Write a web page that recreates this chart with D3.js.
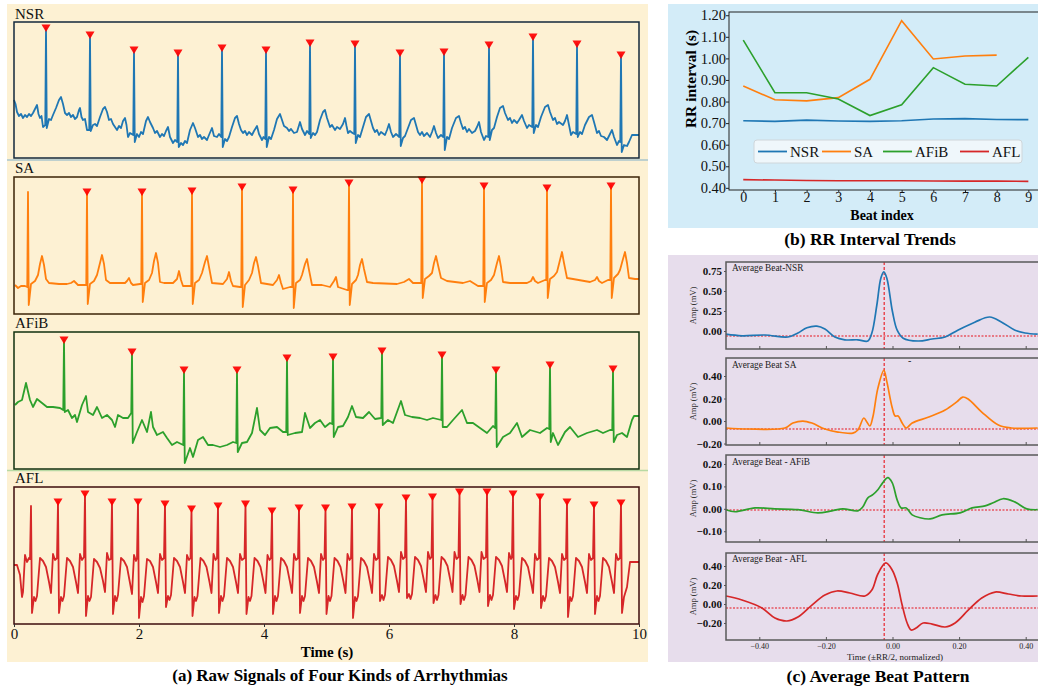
<!DOCTYPE html>
<html>
<head>
<meta charset="utf-8">
<script src="https://cdn.jsdelivr.net/npm/d3@7"></script>
<style>
  body { margin: 0; background: #ffffff; }
  svg { display: block; font-family: "Liberation Serif", "Times New Roman", serif; }
</style>
</head>
<body>
<svg id="fig" width="1038" height="686"></svg>
<script>
// ---- (a) raw signals: [time s, amplitude mV] ----
var nsrSignal = [
  [0,0.44],[0.024,0.36],[0.048,0.20],[0.08,0.12],[0.112,0.16],[0.144,0.08],[0.176,0.14],[0.208,0.10],[0.24,0.16],[0.272,0.12],[0.304,0.18],
  [0.336,0.26],[0.368,0.34],[0.392,0.16],[0.416,0.08],[0.44,0.12],[0.464,-0.10],[0.5,-0.06],[0.512,1.88],[0.524,-0.12],
  [0.56,0.06],[0.592,0.04],[0.624,0.14],[0.672,0.28],[0.72,0.44],[0.752,0.50],[0.784,0.36],[0.816,0.18],[0.848,0.14],[0.88,0.18],[0.912,0.10],
  [0.944,0.14],[0.976,0.06],[1.008,0.10],[1.04,0.24],[1.056,0.28],[1.08,0.10],[1.104,0.04],[1.136,0.06],[1.168,-0.16],[1.204,-0.16],[1.216,1.74],[1.228,-0.18],
  [1.264,-0.06],[1.296,-0.04],[1.328,-0.08],[1.376,0.10],[1.424,0.26],[1.456,0.30],[1.488,0.20],[1.52,0.04],[1.552,0.06],[1.584,-0.04],[1.616,-0.10],
  [1.648,-0.16],[1.68,-0.08],[1.712,-0.12],[1.744,0.02],[1.776,0.08],[1.8,-0.06],[1.824,-0.30],[1.856,-0.22],[1.908,-0.26],[1.92,1.44],[1.932,-0.40],
  [1.968,-0.24],[2.0,-0.30],[2.032,-0.20],[2.064,-0.24],[2.112,0.02],[2.144,0.10],[2.176,0.00],[2.224,-0.12],[2.256,-0.22],[2.288,-0.18],[2.336,-0.30],
  [2.368,-0.24],[2.4,-0.28],[2.432,-0.18],[2.464,-0.10],[2.496,-0.30],[2.544,-0.42],[2.576,-0.36],[2.612,-0.40],[2.624,1.38],[2.636,-0.50],
  [2.672,-0.42],[2.704,-0.46],[2.736,-0.38],[2.768,-0.42],[2.816,-0.16],[2.864,-0.02],[2.896,-0.12],[2.944,-0.30],[2.976,-0.26],[3.008,-0.34],
  [3.04,-0.30],[3.088,-0.36],[3.12,-0.26],[3.168,-0.12],[3.2,-0.28],[3.248,-0.30],[3.28,-0.24],[3.316,-0.30],[3.328,1.48],[3.34,-0.50],
  [3.376,-0.34],[3.408,-0.38],[3.44,-0.30],[3.488,-0.10],[3.536,0.08],[3.568,0.12],[3.6,-0.04],[3.632,-0.16],[3.664,-0.22],[3.696,-0.18],[3.728,-0.26],
  [3.76,-0.20],[3.808,-0.26],[3.84,-0.18],[3.888,-0.08],[3.92,-0.24],[3.968,-0.36],[3.992,-0.30],[4.02,-0.34],[4.032,1.44],[4.044,-0.50],
  [4.08,-0.30],[4.112,-0.34],[4.16,-0.16],[4.208,0.06],[4.256,0.16],[4.288,0.04],[4.32,-0.08],[4.368,-0.12],[4.4,-0.18],[4.432,-0.14],[4.48,-0.22],
  [4.528,-0.20],[4.576,0],[4.608,-0.14],[4.656,-0.26],[4.688,-0.18],[4.724,-0.24],[4.736,1.58],[4.748,-0.32],
  [4.784,-0.22],[4.816,-0.26],[4.848,-0.20],[4.896,0.04],[4.944,0.20],[4.976,0.24],[5.008,0.08],[5.056,-0.10],[5.088,-0.06],[5.136,-0.16],[5.168,-0.10],
  [5.216,-0.14],[5.264,-0.04],[5.296,0.08],[5.32,-0.08],[5.344,-0.22],[5.376,-0.18],[5.416,-0.22],[5.444,-0.24],[5.456,1.56],[5.468,-0.42],
  [5.504,-0.26],[5.536,-0.30],[5.584,-0.10],[5.632,0.10],[5.68,0.16],[5.712,0.02],[5.744,-0.12],[5.776,-0.20],[5.808,-0.16],[5.84,-0.26],[5.872,-0.20],
  [5.936,-0.26],[5.968,-0.16],[6.0,-0.04],[6.032,-0.20],[6.064,-0.30],[6.112,-0.24],[6.164,-0.30],[6.176,1.38],[6.188,-0.48],
  [6.224,-0.32],[6.256,-0.28],[6.304,-0.12],[6.352,0.04],[6.4,0.08],[6.432,-0.06],[6.464,-0.20],[6.496,-0.26],[6.528,-0.20],[6.56,-0.28],[6.608,-0.22],
  [6.656,-0.30],[6.688,-0.20],[6.72,-0.08],[6.752,-0.22],[6.784,-0.32],[6.832,-0.26],[6.868,-0.30],[6.88,1.40],[6.892,-0.56],
  [6.928,-0.30],[6.96,-0.34],[7.008,-0.12],[7.072,0.08],[7.12,0.12],[7.152,-0.02],[7.184,-0.14],[7.216,-0.10],[7.248,-0.20],[7.28,-0.14],[7.328,-0.22],
  [7.376,-0.18],[7.408,-0.10],[7.44,0],[7.472,-0.20],[7.52,-0.36],[7.552,-0.28],[7.588,-0.30],[7.6,1.54],[7.612,-0.36],
  [7.648,-0.16],[7.68,-0.12],[7.728,0.10],[7.776,0.28],[7.824,0.32],[7.856,0.18],[7.904,0.04],[7.936,0.08],[7.968,-0.02],[8.0,0.04],[8.048,-0.02],
  [8.08,0.04],[8.128,0.14],[8.16,0.02],[8.208,-0.12],[8.24,-0.06],[8.292,-0.10],[8.304,1.70],[8.316,-0.22],
  [8.352,-0.06],[8.384,-0.10],[8.432,0.10],[8.496,0.30],[8.544,0.34],[8.576,0.20],[8.624,0.04],[8.656,0.08],[8.688,-0.04],[8.72,0.00],[8.784,-0.06],
  [8.816,0.02],[8.848,0.14],[8.88,-0.06],[8.912,-0.26],[8.944,-0.20],[8.996,-0.24],[9.008,1.56],[9.02,-0.30],
  [9.056,-0.20],[9.088,-0.24],[9.136,-0.06],[9.2,0.10],[9.248,0.14],[9.28,0.00],[9.328,-0.22],[9.36,-0.18],[9.392,-0.28],[9.44,-0.30],[9.488,-0.36],
  [9.52,-0.28],[9.568,-0.16],[9.6,-0.30],[9.648,-0.46],[9.68,-0.38],[9.70,-0.40],[9.712,1.34],[9.724,-0.60],
  [9.76,-0.46],[9.808,-0.48],[9.84,-0.40],[9.888,-0.26],[9.92,-0.26],[10,-0.26]
];
var nsrPeakTimes = [0.512, 1.216, 1.92, 2.624, 3.328, 4.032, 4.736, 5.456, 6.176, 6.88, 7.6, 8.304, 9.008, 9.712];

var saSignal = [
  [0.016,0],[0.064,-0.06],[0.112,-0.02],[0.176,-0.02],[0.212,-0.04],[0.224,1.86],[0.236,-0.40],[0.272,0.02],[0.336,0.08],[0.384,0.20],[0.416,0.42],
  [0.448,0.58],[0.48,0.40],[0.512,0.12],[0.56,0.04],[0.72,0.02],[0.848,0.02],[0.912,0.04],[0.96,0.08],[0.992,0.04],[1.024,0],[1.136,0],[1.156,0],
  [1.168,1.86],[1.18,-0.38],[1.216,0.02],[1.28,0.08],[1.328,0.20],[1.376,0.44],[1.408,0.60],[1.44,0.42],[1.472,0.10],[1.536,0.04],[1.776,0.04],
  [1.808,0.08],[1.84,0.14],[1.872,0.04],[1.904,0],[2.016,0.02],[2.036,0.02],
  [2.048,1.86],[2.06,-0.34],[2.096,0.04],[2.16,0.10],[2.208,0.24],[2.24,0.48],[2.272,0.64],[2.304,0.44],[2.336,0.06],[2.4,0.04],[2.544,0.04],
  [2.608,0.12],[2.64,0.28],[2.672,0.10],[2.704,-0.02],[2.816,-0.02],[2.836,-0.02],
  [2.848,1.88],[2.86,-0.38],[2.896,0.04],[2.96,0.10],[3.008,0.24],[3.056,0.46],[3.088,0.58],[3.12,0.36],[3.168,0.04],[3.344,0.02],[3.408,0.12],
  [3.44,0.26],[3.472,0.08],[3.504,-0.02],[3.616,-0.04],[3.636,-0.04],
  [3.648,1.96],[3.66,-0.44],[3.696,0],[3.76,0.10],[3.808,0.24],[3.84,0.44],[3.872,0.56],[3.904,0.38],[3.952,0.04],[4.144,0],[4.208,0.10],
  [4.24,0.20],[4.272,0.04],[4.304,-0.08],[4.416,-0.04],[4.452,-0.04],
  [4.464,1.90],[4.476,-0.46],[4.512,0.04],[4.576,0.10],[4.608,0.20],[4.656,0.42],[4.688,0.52],[4.72,0.30],[4.768,0],[4.928,0],[5.056,-0.04],
  [5.12,0.08],[5.152,0.16],[5.184,-0.04],[5.328,-0.10],[5.348,-0.10],
  [5.36,2.04],[5.372,-0.40],[5.408,0.02],[5.472,0.10],[5.504,0.20],[5.536,0.40],[5.568,0.52],[5.6,0.32],[5.648,0.06],[5.744,0.04],[6.128,0.02],
  [6.24,0.06],[6.32,0.12],[6.384,0.04],[6.516,0.04],
  [6.528,2.10],[6.54,-0.26],[6.576,0.12],[6.64,0.18],[6.688,0.24],[6.72,0.44],[6.752,0.58],[6.784,0.40],[6.832,0.14],[6.928,0.08],[7.184,0.04],
  [7.296,0.08],[7.424,-0.02],[7.508,-0.02],
  [7.52,1.98],[7.532,-0.34],[7.568,0.04],[7.632,0.10],[7.68,0.20],[7.728,0.44],[7.76,0.58],[7.792,0.36],[7.824,0.06],[7.936,0.04],[8.208,0.04],
  [8.272,0.08],[8.304,0.16],[8.336,0.08],[8.384,0.04],[8.496,0.10],[8.516,0.10],
  [8.528,1.94],[8.54,-0.26],[8.576,0.12],[8.64,0.18],[8.688,0.26],[8.736,0.50],[8.768,0.66],[8.8,0.44],[8.848,0.14],[8.944,0.12],[9.216,0.06],
  [9.296,0.10],[9.328,0.16],[9.36,0.08],[9.408,0.04],[9.504,0.10],[9.54,0.10],
  [9.552,1.98],[9.564,-0.26],[9.6,0.14],[9.664,0.22],[9.696,0.30],[9.744,0.52],[9.776,0.66],[9.808,0.44],[9.84,0.14],[9.936,0.12],[10,0.12]
];
var saPeakTimes = [1.168, 2.048, 2.848, 3.648, 4.464, 5.36, 6.528, 7.52, 8.528, 9.552];

var afibSignal = [
  [0.016,0.30],[0.064,0.36],[0.128,0.40],[0.192,0.74],[0.256,0.40],[0.304,0.26],[0.368,0.42],[0.448,0.34],[0.528,0.26],[0.624,0.26],[0.736,0.24],
  [0.788,0.20],[0.80,1.60],[0.812,0.16],[0.864,0.20],[0.928,0.04],[0.976,0.10],[1.008,-0.04],[1.088,0.30],[1.152,0.48],[1.184,0.16],[1.264,0.10],
  [1.328,0.26],[1.408,0.04],[1.488,0.10],[1.568,0],[1.616,-0.14],[1.664,0.10],[1.744,0.04],[1.824,0.04],[1.876,0.14],[1.888,1.36],[1.9,-0.46],
  [1.968,-0.24],[2.048,0],[2.128,-0.24],[2.192,0.16],[2.224,-0.14],[2.288,-0.30],[2.384,-0.24],[2.448,-0.36],[2.528,-0.50],[2.608,-0.44],[2.708,-0.50],
  [2.72,1.00],[2.732,-0.86],[2.816,-0.56],[2.864,-0.74],[2.944,-0.40],[3.024,-0.34],[3.104,-0.50],[3.184,-0.50],[3.296,-0.54],[3.408,-0.50],[3.504,-0.44],
  [3.556,-0.46],[3.568,1.00],[3.58,-0.64],[3.648,-0.46],[3.728,-0.44],[3.808,-0.26],[3.888,0.24],[3.936,-0.20],[4.016,-0.30],[4.096,-0.16],[4.208,-0.14],
  [4.304,-0.24],[4.356,-0.24],[4.368,1.24],[4.38,-0.30],[4.496,-0.26],[4.608,-0.24],[4.656,0.14],[4.736,-0.16],[4.816,-0.06],[4.896,0],[4.976,-0.14],
  [5.056,-0.06],[5.092,-0.08],[5.104,1.26],[5.116,-0.34],[5.184,-0.14],[5.264,-0.12],[5.344,0.06],[5.408,0.28],[5.472,0.06],[5.584,0.04],[5.68,0.16],
  [5.776,0.02],[5.876,0.04],[5.888,1.38],[5.9,-0.10],[5.984,0],[6.064,-0.06],[6.192,0.38],[6.256,0.10],[6.368,0.06],[6.496,0.04],[6.608,0],[6.704,0.04],
  [6.836,0],[6.848,1.30],[6.86,-0.14],[6.928,-0.14],[7.024,0],[7.168,0.20],[7.248,-0.06],[7.344,-0.06],[7.456,-0.16],[7.568,-0.26],[7.664,-0.12],
  [7.7,-0.16],[7.712,1.00],[7.724,-0.54],[7.824,-0.34],[7.936,-0.26],[8.048,-0.06],[8.128,-0.34],[8.256,-0.20],[8.416,-0.26],[8.528,-0.16],
  [8.564,-0.18],[8.576,1.10],[8.588,-0.44],[8.624,-0.26],[8.704,-0.50],[8.816,-0.24],[8.896,-0.14],[9.024,-0.34],[9.168,-0.26],[9.328,-0.20],
  [9.424,-0.26],[9.536,-0.20],[9.572,-0.20],[9.584,1.02],[9.596,-0.44],[9.648,-0.30],[9.728,-0.26],[9.808,-0.34],[9.888,0],[9.92,0.08],[10,0.08]
];
var afibPeakTimes = [0.80, 1.888, 2.72, 3.568, 4.368, 5.104, 5.888, 6.848, 7.712, 8.576, 9.584];

var aflSignal = [
  [0,0],[0.048,0],[0.096,-0.20],[0.128,-0.64],[0.144,-0.54],[0.176,0.20],[0.208,0.06],[0.24,0.14],[0.256,0.12],
  [0.272,1.18],[0.288,-0.96],[0.32,-0.64],[0.344,-0.72],[0.368,-0.62],[0.416,0.14],[0.464,0.08],[0.512,-0.04],[0.56,-0.34],[0.592,-0.56],[0.624,0.22],[0.656,0.10],[0.688,0.14],
  [0.704,1.26],[0.72,-0.96],[0.752,-0.64],[0.776,-0.72],[0.80,-0.62],[0.848,0.14],[0.896,0.08],[0.944,-0.04],[0.992,-0.34],[1.024,-0.56],[1.056,0.22],[1.088,0.10],[1.12,0.16],
  [1.136,1.42],[1.152,-1.02],[1.184,-0.62],[1.208,-0.72],[1.232,-0.64],[1.28,0.12],[1.328,0.06],[1.376,-0.06],[1.424,-0.32],[1.456,-0.54],[1.488,0.24],[1.52,0.10],[1.552,0.12],
  [1.568,1.26],[1.584,-0.98],[1.616,-0.62],[1.64,-0.72],[1.664,-0.60],[1.712,0.14],[1.76,0.08],[1.808,-0.04],[1.856,-0.36],[1.888,-0.58],[1.92,0.20],[1.952,0.08],[1.968,0.14],
  [1.984,1.26],[2.0,-1.06],[2.032,-0.64],[2.056,-0.74],[2.08,-0.62],[2.128,0.12],[2.176,0.08],[2.224,-0.04],[2.272,-0.34],[2.304,-0.56],[2.336,0.22],[2.368,0.10],[2.40,0.14],
  [2.416,1.22],[2.432,-0.84],[2.464,-0.62],[2.488,-0.70],[2.512,-0.60],[2.56,0.14],[2.608,0.08],[2.656,-0.04],[2.704,-0.34],[2.736,-0.56],[2.768,0.20],[2.80,0.10],[2.824,0.14],
  [2.84,1.12],[2.856,-1.02],[2.888,-0.64],[2.912,-0.72],[2.936,-0.62],[2.984,0.14],[3.032,0.08],[3.08,-0.04],[3.128,-0.34],[3.16,-0.56],[3.192,0.22],[3.224,0.10],[3.248,0.14],
  [3.264,1.18],[3.28,-0.96],[3.312,-0.62],[3.336,-0.72],[3.36,-0.62],[3.408,0.14],[3.456,0.08],[3.504,-0.04],[3.552,-0.34],[3.584,-0.56],[3.616,0.22],[3.648,0.10],[3.688,0.14],
  [3.704,1.22],[3.72,-0.98],[3.752,-0.64],[3.776,-0.72],[3.80,-0.62],[3.848,0.14],[3.896,0.08],[3.944,-0.04],[3.992,-0.34],[4.024,-0.56],[4.056,0.20],[4.088,0.10],[4.112,0.14],
  [4.128,1.08],[4.144,-0.98],[4.176,-0.62],[4.20,-0.72],[4.224,-0.62],[4.272,0.14],[4.32,0.08],[4.368,-0.04],[4.416,-0.34],[4.448,-0.56],[4.48,0.22],[4.512,0.10],[4.544,0.14],
  [4.56,1.14],[4.576,-0.96],[4.608,-0.62],[4.632,-0.72],[4.656,-0.62],[4.704,0.14],[4.752,0.08],[4.80,-0.04],[4.848,-0.34],[4.88,-0.56],[4.912,0.22],[4.944,0.10],[4.968,0.14],
  [4.984,1.14],[5.0,-0.98],[5.032,-0.62],[5.056,-0.72],[5.08,-0.62],[5.128,0.14],[5.176,0.08],[5.224,-0.04],[5.272,-0.34],[5.304,-0.56],[5.336,0.22],[5.368,0.10],[5.392,0.14],
  [5.408,1.16],[5.424,-1.06],[5.456,-0.64],[5.48,-0.72],[5.504,-0.62],[5.552,0.14],[5.60,0.08],[5.648,-0.04],[5.696,-0.34],[5.728,-0.56],[5.76,0.22],[5.792,0.10],[5.824,0.14],
  [5.84,1.16],[5.856,-0.72],[5.888,-0.60],[5.912,-0.70],[5.936,-0.60],[5.984,0.16],[6.032,0.10],[6.08,-0.02],[6.128,-0.32],[6.16,-0.54],[6.192,0.26],[6.224,0.12],[6.256,0.16],
  [6.272,1.34],[6.288,-0.66],[6.32,-0.58],[6.344,-0.68],[6.368,-0.58],[6.416,0.16],[6.464,0.10],[6.512,-0.02],[6.56,-0.32],[6.592,-0.54],[6.624,0.26],[6.656,0.12],[6.68,0.16],
  [6.696,1.36],[6.712,-0.76],[6.744,-0.60],[6.768,-0.70],[6.792,-0.60],[6.84,0.16],[6.888,0.10],[6.936,-0.02],[6.984,-0.32],[7.016,-0.54],[7.048,0.26],[7.08,0.12],[7.112,0.16],
  [7.128,1.46],[7.144,-0.78],[7.176,-0.60],[7.20,-0.70],[7.224,-0.60],[7.272,0.16],[7.32,0.10],[7.368,-0.02],[7.416,-0.32],[7.448,-0.54],[7.48,0.26],[7.512,0.12],[7.552,0.16],
  [7.568,1.46],[7.584,-0.82],[7.616,-0.60],[7.64,-0.70],[7.664,-0.60],[7.712,0.16],[7.76,0.10],[7.808,-0.02],[7.856,-0.32],[7.888,-0.54],[7.92,0.24],[7.952,0.12],[7.968,0.16],
  [7.984,1.42],[8.0,-0.88],[8.032,-0.62],[8.056,-0.70],[8.08,-0.60],[8.128,0.14],[8.176,0.08],[8.224,-0.04],[8.272,-0.34],[8.304,-0.56],[8.336,0.22],[8.368,0.10],[8.40,0.14],
  [8.416,1.36],[8.432,-0.86],[8.464,-0.62],[8.488,-0.72],[8.512,-0.62],[8.56,0.14],[8.608,0.08],[8.656,-0.04],[8.704,-0.34],[8.736,-0.56],[8.768,0.22],[8.80,0.10],[8.832,0.14],
  [8.848,1.26],[8.864,-1.04],[8.896,-0.64],[8.92,-0.72],[8.944,-0.62],[8.992,0.14],[9.04,0.08],[9.088,-0.04],[9.136,-0.34],[9.168,-0.56],[9.20,0.22],[9.232,0.10],[9.264,0.14],
  [9.28,1.20],[9.296,-0.98],[9.328,-0.62],[9.352,-0.72],[9.376,-0.62],[9.424,0.14],[9.472,0.08],[9.52,-0.04],[9.568,-0.34],[9.60,-0.56],[9.632,0.22],[9.664,0.10],[9.696,0.14],
  [9.712,1.24],[9.728,-0.96],[9.76,-0.64],[9.808,-0.44],[9.856,0.06],[9.90,0.06],[10,0.06]
];
var aflPeakTimes = [0.704, 1.136, 1.568, 1.984, 2.416, 2.84, 3.264, 3.704, 4.128, 4.56, 4.984, 5.408,
  5.84, 6.272, 6.696, 7.128, 7.568, 7.984, 8.416, 8.848, 9.28, 9.712];

var timeTicks = [0, 2, 4, 6, 8, 10];

// ---- (b) RR interval trends ----
var beatIndex = [0, 1, 2, 3, 4, 5, 6, 7, 8, 9];
var rrNSR = [0.711, 0.708, 0.714, 0.710, 0.708, 0.711, 0.719, 0.721, 0.717, 0.716];
var rrSA = [0.872, 0.808, 0.803, 0.818, 0.903, 1.175, 0.997, 1.011, 1.015];
var rrAFiB = [1.085, 0.841, 0.841, 0.812, 0.735, 0.785, 0.957, 0.880, 0.872, 1.005];
var rrAFL = [0.438, 0.436, 0.434, 0.433, 0.433, 0.433, 0.432, 0.431, 0.431, 0.430];
var rrTicks = [0.40, 0.50, 0.60, 0.70, 0.80, 0.90, 1.00, 1.10, 1.20];

// ---- (c) average beats: [time (RR/2 normalized), amplitude mV] ----
var avgNSR = [
  [-0.5,-0.04],[-0.452,-0.06],[-0.383,-0.05],[-0.314,-0.075],[-0.284,-0.025],[-0.257,0.04],[-0.227,0.06],[-0.203,0.025],
  [-0.173,-0.075],[-0.143,-0.11],[-0.104,-0.11],[-0.074,-0.125],[-0.062,-0.025],[-0.047,0.325],[-0.035,0.66],[-0.026,0.74],
  [-0.017,0.66],[0,0.24],[0.014,0.01],[0.032,-0.09],[0.077,-0.125],[0.119,-0.10],[0.158,-0.075],[0.196,0.01],[0.247,0.11],
  [0.292,0.175],[0.328,0.11],[0.368,0.01],[0.398,-0.025],[0.436,-0.04]
];
var avgSA = [
  [-0.5,-0.062],[-0.434,-0.071],[-0.323,-0.062],[-0.299,-0.018],[-0.269,0],[-0.242,-0.018],[-0.203,-0.071],[-0.164,-0.098],
  [-0.119,-0.107],[-0.104,-0.08],[-0.086,0.027],[-0.077,-0.009],[-0.068,-0.044],[-0.059,0.036],[-0.044,0.29],[-0.026,0.45],
  [-0.017,0.35],[-0.001,0.12],[0.008,0.045],[0.017,0.045],[0.029,-0.018],[0.041,-0.062],[0.059,-0.018],[0.109,0.036],
  [0.158,0.098],[0.193,0.17],[0.211,0.213],[0.227,0.196],[0.268,0.08],[0.318,-0.036],[0.357,-0.062],[0.436,-0.062]
];
var avgAFiB = [
  [-0.5,-0.004],[-0.473,-0.013],[-0.413,0.004],[-0.353,0],[-0.284,-0.004],[-0.224,-0.018],[-0.182,-0.009],[-0.149,0],
  [-0.104,-0.009],[-0.089,0.009],[-0.074,0.049],[-0.059,0.063],[-0.044,0.085],[-0.029,0.117],[-0.014,0.139],[-0.001,0.117],
  [0.014,0.04],[0.026,0.004],[0.041,0.004],[0.059,-0.027],[0.083,-0.04],[0.113,-0.045],[0.149,-0.027],[0.203,-0.018],
  [0.239,0.004],[0.278,0.013],[0.302,0.027],[0.332,0.045],[0.367,0.031],[0.403,0],[0.436,-0.004]
];
var avgAFL = [
  [-0.5,0.084],[-0.452,0.042],[-0.392,-0.042],[-0.353,-0.147],[-0.317,-0.179],[-0.284,-0.137],[-0.242,-0.011],[-0.203,0.095],
  [-0.167,0.137],[-0.128,0.116],[-0.083,0.084],[-0.062,0.147],[-0.044,0.316],[-0.020,0.432],[-0.001,0.358],[0.014,0.221],
  [0.029,-0.011],[0.044,-0.2],[0.056,-0.274],[0.071,-0.253],[0.092,-0.2],[0.119,-0.211],[0.158,-0.242],[0.188,-0.2],
  [0.228,-0.063],[0.268,0.063],[0.308,0.126],[0.348,0.105],[0.388,0.084],[0.436,0.084]
];
var beatTimeTicks = [-0.4, -0.2, 0, 0.2, 0.4];
var rPeakOffset = -0.025;

var svg = d3.select('#fig');

// panel backgrounds
svg.append('rect').attr('x', 7).attr('y', 4).attr('width', 641).attr('height', 658).attr('fill', '#fdf1d3');
svg.append('rect').attr('x', 668).attr('y', 4).attr('width', 370).attr('height', 224).attr('fill', '#d3ecf8');
svg.append('rect').attr('x', 668).attr('y', 255).attr('width', 370).attr('height', 407).attr('fill', '#e7ddec');

// ================= (a) raw signals =================
var tx = d3.scaleLinear().domain([0, 10]).range([14, 639]);

var signalPanels = [
  { label: 'NSR', data: nsrSignal, peaks: nsrPeakTimes, domain: [-0.72, 2.0], top: 22, bottom: 158, color: '#1f77b4', frame: '#13293d', labelY: 19 },
  { label: 'SA', data: saSignal, peaks: saPeakTimes, domain: [-0.58, 2.16], top: 177, bottom: 314, color: '#ff7f0e', frame: '#3b2307', labelY: 173 },
  { label: 'AFiB', data: afibSignal, peaks: afibPeakTimes, domain: [-0.98, 1.76], top: 332, bottom: 469, color: '#2ca02c', frame: '#10300f', labelY: 328 },
  { label: 'AFL', data: aflSignal, peaks: aflPeakTimes, domain: [-1.18, 1.56], top: 487, bottom: 624, color: '#d62728', frame: '#3d0c0c', labelY: 483 }
];

// thin separators between rows
svg.append('line').attr('x1', 7).attr('x2', 648).attr('y1', 160).attr('y2', 160).attr('stroke', '#a9c4cd').attr('stroke-width', 1.5);
svg.append('line').attr('x1', 7).attr('x2', 648).attr('y1', 470.5).attr('y2', 470.5).attr('stroke', '#b7d9a3').attr('stroke-width', 1.5);

signalPanels.forEach(function (p) {
  var y = d3.scaleLinear().domain(p.domain).range([p.bottom, p.top]);
  var g = svg.append('g');

  g.append('text')
    .attr('x', 15).attr('y', p.labelY)
    .attr('font-size', 15).attr('fill', '#111')
    .text(p.label);

  var line = d3.line()
    .x(function (d) { return tx(d[0]); })
    .y(function (d) { return y(d[1]); });

  g.append('path')
    .datum(p.data)
    .attr('d', line)
    .attr('fill', 'none')
    .attr('stroke', p.color)
    .attr('stroke-width', 1.8)
    .attr('stroke-linejoin', 'round');

  // R-peak markers: value taken from the nearest signal sample
  var peakPts = p.peaks.map(function (t) {
    return d3.least(p.data, function (d) { return Math.abs(d[0] - t); });
  });
  g.selectAll('path.peak')
    .data(peakPts)
    .join('path')
    .attr('class', 'peak')
    .attr('d', function (d) {
      var cx = tx(d[0]), cy = y(d[1]);
      return 'M' + (cx - 4.5) + ',' + (cy - 3.5) + 'L' + (cx + 4.5) + ',' + (cy - 3.5) + 'L' + cx + ',' + (cy + 4) + 'Z';
    })
    .attr('fill', '#ff0000')
    .attr('fill-opacity', 0.92);

  g.append('rect')
    .attr('x', tx(0)).attr('y', p.top)
    .attr('width', tx(10) - tx(0)).attr('height', p.bottom - p.top)
    .attr('fill', 'none')
    .attr('stroke', p.frame)
    .attr('stroke-width', 1.5);
});

var timeAxis = svg.append('g')
  .attr('transform', 'translate(0,624)')
  .call(d3.axisBottom(tx).tickValues(timeTicks).tickFormat(d3.format('d')).tickSize(3).tickPadding(1));
timeAxis.select('.domain').remove();
timeAxis.selectAll('text').attr('font-size', 15).attr('font-family', 'Liberation Serif').attr('fill', '#111');
timeAxis.selectAll('line').attr('stroke', '#333');

svg.append('text')
  .attr('x', 327).attr('y', 657)
  .attr('text-anchor', 'middle')
  .attr('font-size', 15).attr('font-weight', 'bold')
  .text('Time (s)');

svg.append('text')
  .attr('x', 340).attr('y', 681)
  .attr('text-anchor', 'middle')
  .attr('font-size', 17).attr('font-weight', 'bold')
  .text('(a) Raw Signals of Four Kinds of Arrhythmias');

// ================= (b) RR interval trends =================
var rx = d3.scaleLinear().domain([-0.45, 9.45]).range([729, 1042.6]);
var ry = d3.scaleLinear().domain([0.39, 1.215]).range([190, 12]);

var rrSeries = [
  { name: 'NSR', values: rrNSR, color: '#1f77b4' },
  { name: 'SA', values: rrSA, color: '#ff7f0e' },
  { name: 'AFiB', values: rrAFiB, color: '#2ca02c' },
  { name: 'AFL', values: rrAFL, color: '#d62728' }
];

var rrLine = d3.line()
  .x(function (d, i) { return rx(beatIndex[i]); })
  .y(function (d) { return ry(d); });

svg.append('g').selectAll('path')
  .data(rrSeries)
  .join('path')
  .attr('d', function (s) { return rrLine(s.values); })
  .attr('fill', 'none')
  .attr('stroke', function (s) { return s.color; })
  .attr('stroke-width', 1.6);

svg.append('rect')
  .attr('x', 729).attr('y', 12)
  .attr('width', 313.6).attr('height', 178)
  .attr('fill', 'none').attr('stroke', '#222').attr('stroke-width', 1);

var ryAxis = svg.append('g')
  .attr('transform', 'translate(729,0)')
  .call(d3.axisLeft(ry).tickValues(rrTicks).tickFormat(d3.format('.2f')).tickSize(3).tickPadding(0));
var rxAxis = svg.append('g')
  .attr('transform', 'translate(0,190)')
  .call(d3.axisBottom(rx).tickValues(beatIndex).tickFormat(d3.format('d')).tickSize(2).tickPadding(0));
[ryAxis, rxAxis].forEach(function (a) {
  a.select('.domain').remove();
  a.selectAll('text').attr('font-size', 14.5).attr('font-family', 'Liberation Serif').attr('fill', '#111');
  a.selectAll('line').attr('stroke', '#222');
});
rxAxis.selectAll('text').attr('font-size', 14);

svg.append('text')
  .attr('x', 882).attr('y', 219.5)
  .attr('text-anchor', 'middle')
  .attr('font-size', 14).attr('font-weight', 'bold')
  .text('Beat index');

svg.append('text')
  .attr('transform', 'translate(696,79) rotate(-90)')
  .attr('text-anchor', 'middle')
  .attr('font-size', 15.5).attr('font-weight', 'bold')
  .text('RR interval (s)');

// legend
var legend = svg.append('g');
legend.append('rect')
  .attr('x', 754).attr('y', 140).attr('width', 268).attr('height', 23)
  .attr('rx', 3)
  .attr('fill', '#f3f9fc').attr('fill-opacity', 0.85)
  .attr('stroke', '#cfd6da');
var legendX = [758, 822, 883, 960];
rrSeries.forEach(function (s, i) {
  legend.append('line')
    .attr('x1', legendX[i]).attr('x2', legendX[i] + 29)
    .attr('y1', 151.5).attr('y2', 151.5)
    .attr('stroke', s.color).attr('stroke-width', 1.8);
  legend.append('text')
    .attr('x', legendX[i] + 32).attr('y', 157)
    .attr('font-size', 15).attr('fill', '#111')
    .text(s.name);
});

svg.append('text')
  .attr('x', 870).attr('y', 245)
  .attr('text-anchor', 'middle')
  .attr('font-size', 17.5).attr('font-weight', 'bold')
  .text('(b) RR Interval Trends');

// ================= (c) average beat pattern =================
var bx = d3.scaleLinear().domain([-0.5, 0.5]).range([726, 1059]);

var beatPanels = [
  { title: 'Average Beat-NSR', data: avgNSR, base: -0.0625, domain: [-0.225, 0.8625], ticks: [0, 0.25, 0.5, 0.75], top: 262, bottom: 349, color: '#1f77b4', titleY: 271 },
  { title: 'Average Beat   SA', data: avgSA, base: -0.071, domain: [-0.213, 0.56], ticks: [-0.2, 0, 0.2, 0.4], top: 358, bottom: 445, color: '#ff7f0e', titleY: 368 },
  { title: 'Average Beat - AFiB', data: avgAFiB, base: -0.005, domain: [-0.148, 0.24], ticks: [-0.1, 0, 0.1, 0.2], top: 455, bottom: 542, color: '#2ca02c', titleY: 465 },
  { title: 'Average Beat - AFL', data: avgAFL, base: -0.042, domain: [-0.379, 0.537], ticks: [-0.2, 0, 0.2, 0.4], top: 553, bottom: 640, color: '#d62728', titleY: 562 }
];

beatPanels.forEach(function (p, i) {
  var y = d3.scaleLinear().domain(p.domain).range([p.bottom, p.top]);
  var g = svg.append('g');

  g.append('line')
    .attr('x1', bx(-0.5)).attr('x2', bx(0.5))
    .attr('y1', y(p.base)).attr('y2', y(p.base))
    .attr('stroke', '#e8141c').attr('stroke-width', 1.1).attr('stroke-dasharray', '2,1.5');

  g.append('line')
    .attr('x1', bx(rPeakOffset)).attr('x2', bx(rPeakOffset))
    .attr('y1', p.top).attr('y2', p.bottom)
    .attr('stroke', '#e8141c').attr('stroke-width', 1.1).attr('stroke-dasharray', '3,2');

  g.append('path')
    .datum(p.data)
    .attr('d', d3.line().curve(d3.curveCatmullRom)
      .x(function (d) { return bx(d[0]); })
      .y(function (d) { return y(d[1]); }))
    .attr('fill', 'none')
    .attr('stroke', p.color)
    .attr('stroke-width', 1.7);

  g.append('rect')
    .attr('x', 726).attr('y', p.top)
    .attr('width', 333).attr('height', p.bottom - p.top)
    .attr('fill', 'none').attr('stroke', '#5a5a5a').attr('stroke-width', 1.5);

  var yAxis = g.append('g')
    .attr('transform', 'translate(726,0)')
    .call(d3.axisLeft(y).tickValues(p.ticks).tickFormat(d3.format('.2f')).tickSize(2).tickPadding(2));
  yAxis.select('.domain').remove();
  yAxis.selectAll('text').attr('font-size', 11).attr('font-weight', 'bold').attr('font-family', 'Liberation Serif').attr('fill', '#111');
  yAxis.selectAll('line').attr('stroke', '#555');

  var xAxis = g.append('g')
    .attr('transform', 'translate(0,' + p.bottom + ')')
    .call(d3.axisBottom(bx).tickValues(beatTimeTicks).tickFormat(d3.format('.2f')).tickSize(-3).tickPadding(3));
  xAxis.select('.domain').remove();
  xAxis.selectAll('line').attr('stroke', '#555');
  if (i < beatPanels.length - 1) {
    xAxis.selectAll('text').remove();
  } else {
    xAxis.selectAll('text').attr('font-size', 8).attr('font-family', 'Liberation Serif').attr('fill', '#222');
  }

  g.append('text')
    .attr('transform', 'translate(696,' + ((p.top + p.bottom) / 2) + ') rotate(-90)')
    .attr('text-anchor', 'middle')
    .attr('font-size', 8.5).attr('fill', '#333')
    .text('Amp (mV)');

  g.append('text')
    .attr('x', 732).attr('y', p.titleY)
    .attr('font-size', 9.3).attr('fill', '#222')
    .text(p.title);
});

// stray hyphen left over from the SA title
svg.append('text')
  .attr('x', 908).attr('y', 364)
  .attr('font-size', 10).attr('fill', '#222')
  .text('-');

svg.append('text')
  .attr('x', 895).attr('y', 660)
  .attr('text-anchor', 'middle')
  .attr('font-size', 9).attr('fill', '#222')
  .text('Time (\u00b1RR/2, normalized)');

svg.append('text')
  .attr('x', 878).attr('y', 682)
  .attr('text-anchor', 'middle')
  .attr('font-size', 17.5).attr('font-weight', 'bold')
  .text('(c) Average Beat Pattern');
</script>
</body>
</html>
